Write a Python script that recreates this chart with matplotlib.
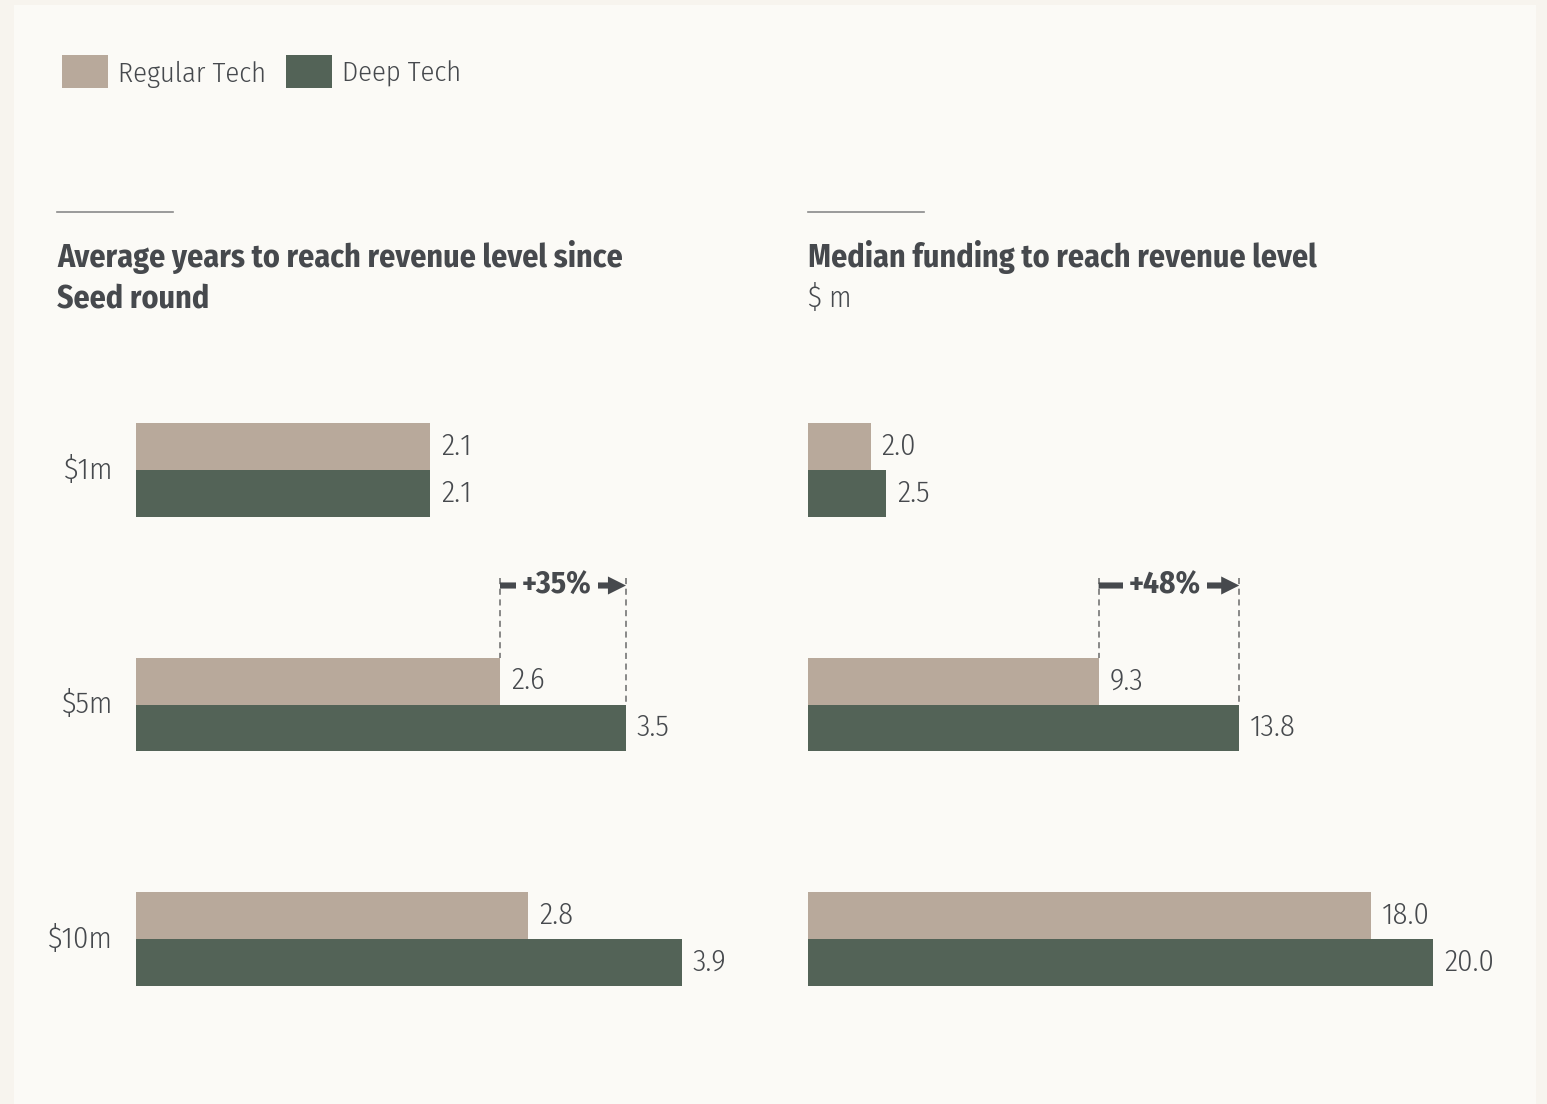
import matplotlib
matplotlib.use("Agg")
import matplotlib.pyplot as plt
from matplotlib.patches import Rectangle
from matplotlib import font_manager

W, H = 1547, 1104
DPI = 100

categories = ["$1m", "$5m", "$10m"]
series_names = ["Regular Tech", "Deep Tech"]
years_regular = [2.1, 2.6, 2.8]
years_deep = [2.1, 3.5, 3.9]
funding_regular = [2.0, 9.3, 18.0]
funding_deep = [2.5, 13.8, 20.0]
left_title = "Average years to reach revenue level since\nSeed round"
right_title = "Median funding to reach revenue level"
right_unit = "$ m"
left_delta = "+35%"
right_delta = "+48%"

C_REG = "#B8A99B"
C_DEEP = "#536357"
C_TXT = "#46494D"
BG_OUT = "#F7F4EE"
BG_IN = "#FBFAF6"

names = {f.name for f in font_manager.fontManager.ttflist}
pref = ["Fira Sans Condensed", "Asap Condensed", "Roboto Condensed", "Roboto"]
FAM = [p for p in pref if p in names][:1] or ["DejaVu Sans"]
plt.rcParams["font.family"] = FAM + ["DejaVu Sans"]

LW = 300  # light weight for regular text
FS = 22

fig = plt.figure(figsize=(W / DPI, H / DPI), dpi=DPI)
fig.patch.set_facecolor(BG_OUT)


def fx(x):
    return x / W


def fy(y):
    return 1 - y / H


fig.add_artist(Rectangle((fx(14), fy(1104)), (1536 - 14) / W, (1104 - 5) / H,
                         transform=fig.transFigure, facecolor=BG_IN, edgecolor="none", zorder=0))

for (x0, name, col) in [(62, series_names[0], C_REG), (286, series_names[1], C_DEEP)]:
    fig.add_artist(Rectangle((fx(x0), fy(88)), 46 / W, 33 / H, transform=fig.transFigure,
                             facecolor=col, edgecolor="none", zorder=2))
    fig.text(fx(x0 + 56), fy(82), name, fontsize=20.5, fontweight=LW, color=C_TXT,
             va="baseline", ha="left")

for x0 in (57, 808):
    fig.add_artist(plt.Line2D([fx(x0), fx(x0 + 116)], [fy(212), fy(212)], transform=fig.transFigure,
                              color="#8a8a8a", lw=1.2))

for k, line in enumerate(left_title.split("\n")):
    fig.text(fx(57), fy(267 + 41 * k), line, fontsize=23, fontweight="bold", color=C_TXT,
             va="baseline", ha="left")
fig.text(fx(808), fy(267), right_title, fontsize=23, fontweight="bold", color=C_TXT,
         va="baseline", ha="left")
fig.text(fx(808), fy(307), right_unit, fontsize=21, fontweight=LW, color=C_TXT,
         va="baseline", ha="left")

ROW = 234.5
top = 470 - 0.5 * ROW
ax_h = 3 * ROW
BH = 0.2


def make_axes(x0, pxu, xmax):
    ax = fig.add_axes([fx(x0), fy(top + ax_h), xmax * pxu / W, ax_h / H])
    ax.set_xlim(0, xmax)
    ax.set_ylim(2.5, -0.5)
    ax.axis("off")
    ax.patch.set_alpha(0)
    return ax


axL = make_axes(136, 140.0, 4.5)
axR = make_axes(808, 31.25, 23.0)


def draw(ax, reg, deep, pxu):
    ys = list(range(len(categories)))
    ax.barh([y - BH / 2 for y in ys], reg, height=BH, color=C_REG, align="center")
    ax.barh([y + BH / 2 for y in ys], deep, height=BH, color=C_DEEP, align="center")
    off = 11 / pxu
    for y, v in zip(ys, reg):
        ax.text(v + off, y - BH / 2, f"{v:.1f}", fontsize=FS, fontweight=LW, color=C_TXT,
                va="center", ha="left")
    for y, v in zip(ys, deep):
        ax.text(v + off, y + BH / 2, f"{v:.1f}", fontsize=FS, fontweight=LW, color=C_TXT,
                va="center", ha="left")


draw(axL, years_regular, years_deep, 140.0)
draw(axR, funding_regular, funding_deep, 31.25)

for i, c in enumerate(categories):
    axL.text(-23 / 140.0, i, c, fontsize=FS, fontweight=LW, color=C_TXT, va="center", ha="right")


def delta(ax, i, a, b, label, pxu, shift):
    yarr = i - (705 - 586) / ROW
    ytop = i - (705 - 578) / ROW
    ax.plot([a, a], [ytop, i - BH], ls=(0, (4, 3)), color="#6a6a6a", lw=1.1)
    ax.plot([b, b], [ytop, i], ls=(0, (4, 3)), color="#6a6a6a", lw=1.1)
    ax.annotate("", xy=(b, yarr), xytext=(a, yarr),
                arrowprops=dict(arrowstyle="simple,head_length=0.65,head_width=0.65,tail_width=0.22",
                                color=C_TXT, lw=0, shrinkA=0, shrinkB=0, mutation_scale=20))
    ax.text((a + b) / 2 + shift / pxu, yarr, label, fontsize=22.5, fontweight="bold", color=C_TXT,
            ha="center", va="center",
            bbox=dict(boxstyle="square,pad=0.2", facecolor=BG_IN, edgecolor="none"))


delta(axL, 1, years_regular[1], years_deep[1], left_delta, 140.0, -6)
delta(axR, 1, funding_regular[1], funding_deep[1], right_delta, 31.25, -4)

fig.savefig("out.png", dpi=DPI, facecolor=BG_OUT)
